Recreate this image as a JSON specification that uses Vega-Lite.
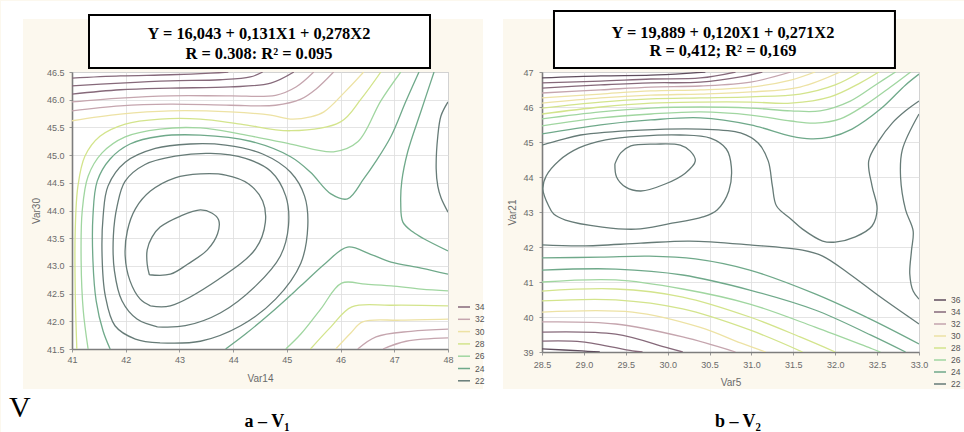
{
"$schema": "https://vega.github.io/schema/vega-lite/v6.json",
"background": "#fcf8ee",
"padding": 0,
"bounds": "flush",
"spacing": 94,
"config": {
 "view": {"fill": "white", "stroke": "#a8a8a8", "strokeWidth": 1},
 "axis": {"labelFont": "Liberation Sans", "labelFontSize": 9, "labelColor": "#6a6a6a", "titleFont": "Liberation Sans", "titleFontSize": 10, "titleFontWeight": "normal", "titleColor": "#6a6a6a", "gridColor": "#dddddd", "gridWidth": 0.8, "domainColor": "#7d7d7d", "domainWidth": 1.6, "tickColor": "#999999", "tickSize": 3, "labelFlush": false, "labelOverlap": false},
 "legend": {"title": null, "symbolType": "stroke", "symbolSize": 144, "symbolStrokeWidth": 1.5, "labelFontSize": 8.5, "labelColor": "#555555", "labelFont": "Liberation Sans", "labelOffset": 4}
},
"resolve": {"scale": {"stroke": "independent"}},
"datasets": {
"L": [
{"id":"A","lv":22,"i":0,"x":42.44,"y":42.84},{"id":"A","lv":22,"i":1,"x":42.83,"y":42.85},{"id":"A","lv":22,"i":2,"x":43.15,"y":43.03},{"id":"A","lv":22,"i":3,"x":43.52,"y":43.29},{"id":"A","lv":22,"i":4,"x":43.71,"y":43.58},{"id":"A","lv":22,"i":5,"x":43.73,"y":43.83},{"id":"A","lv":22,"i":6,"x":43.61,"y":43.95},{"id":"A","lv":22,"i":7,"x":43.39,"y":44.01},{"id":"A","lv":22,"i":8,"x":43.02,"y":43.90},{"id":"A","lv":22,"i":9,"x":42.64,"y":43.70},{"id":"A","lv":22,"i":10,"x":42.49,"y":43.52},{"id":"A","lv":22,"i":11,"x":42.40,"y":43.29},{"id":"A","lv":22,"i":12,"x":42.40,"y":43.03},{"id":"A","lv":22,"i":13,"x":42.44,"y":42.84},
{"id":"R2","lv":22,"i":0,"x":42.46,"y":42.28},{"id":"R2","lv":22,"i":1,"x":42.83,"y":42.28},{"id":"R2","lv":22,"i":2,"x":43.73,"y":42.76},{"id":"R2","lv":22,"i":3,"x":44.42,"y":43.31},{"id":"R2","lv":22,"i":4,"x":44.60,"y":43.79},{"id":"R2","lv":22,"i":5,"x":44.55,"y":44.17},{"id":"R2","lv":22,"i":6,"x":44.29,"y":44.48},{"id":"R2","lv":22,"i":7,"x":43.86,"y":44.64},{"id":"R2","lv":22,"i":8,"x":43.39,"y":44.66},{"id":"R2","lv":22,"i":9,"x":42.92,"y":44.59},{"id":"R2","lv":22,"i":10,"x":42.46,"y":44.35},{"id":"R2","lv":22,"i":11,"x":42.18,"y":44.03},{"id":"R2","lv":22,"i":12,"x":42.03,"y":43.63},{"id":"R2","lv":22,"i":13,"x":41.99,"y":43.18},{"id":"R2","lv":22,"i":14,"x":42.08,"y":42.73},{"id":"R2","lv":22,"i":15,"x":42.27,"y":42.40},{"id":"R2","lv":22,"i":16,"x":42.46,"y":42.28},
{"id":"R3","lv":22,"i":0,"x":42.59,"y":41.90},{"id":"R3","lv":22,"i":1,"x":43.11,"y":41.92},{"id":"R3","lv":22,"i":2,"x":43.76,"y":42.15},{"id":"R3","lv":22,"i":3,"x":44.42,"y":42.64},{"id":"R3","lv":22,"i":4,"x":44.88,"y":43.18},{"id":"R3","lv":22,"i":5,"x":45.03,"y":43.72},{"id":"R3","lv":22,"i":6,"x":44.98,"y":44.26},{"id":"R3","lv":22,"i":7,"x":44.70,"y":44.71},{"id":"R3","lv":22,"i":8,"x":44.23,"y":44.94},{"id":"R3","lv":22,"i":9,"x":43.58,"y":45.03},{"id":"R3","lv":22,"i":10,"x":42.92,"y":44.98},{"id":"R3","lv":22,"i":11,"x":42.36,"y":44.83},{"id":"R3","lv":22,"i":12,"x":41.99,"y":44.53},{"id":"R3","lv":22,"i":13,"x":41.84,"y":44.08},{"id":"R3","lv":22,"i":14,"x":41.77,"y":43.54},{"id":"R3","lv":22,"i":15,"x":41.79,"y":42.91},{"id":"R3","lv":22,"i":16,"x":41.93,"y":42.37},{"id":"R3","lv":22,"i":17,"x":42.21,"y":42.04},{"id":"R3","lv":22,"i":18,"x":42.59,"y":41.90},
{"id":"R4","lv":22,"i":0,"x":42.64,"y":41.61},{"id":"R4","lv":22,"i":1,"x":43.39,"y":41.64},{"id":"R4","lv":22,"i":2,"x":44.14,"y":41.92},{"id":"R4","lv":22,"i":3,"x":44.79,"y":42.40},{"id":"R4","lv":22,"i":4,"x":45.26,"y":43.05},{"id":"R4","lv":22,"i":5,"x":45.39,"y":43.72},{"id":"R4","lv":22,"i":6,"x":45.33,"y":44.26},{"id":"R4","lv":22,"i":7,"x":45.07,"y":44.69},{"id":"R4","lv":22,"i":8,"x":44.55,"y":45.02},{"id":"R4","lv":22,"i":9,"x":43.86,"y":45.18},{"id":"R4","lv":22,"i":10,"x":43.20,"y":45.20},{"id":"R4","lv":22,"i":11,"x":42.55,"y":45.12},{"id":"R4","lv":22,"i":12,"x":41.99,"y":44.87},{"id":"R4","lv":22,"i":13,"x":41.67,"y":44.44},{"id":"R4","lv":22,"i":14,"x":41.58,"y":43.90},{"id":"R4","lv":22,"i":15,"x":41.56,"y":43.18},{"id":"R4","lv":22,"i":16,"x":41.62,"y":42.46},{"id":"R4","lv":22,"i":17,"x":41.80,"y":41.92},{"id":"R4","lv":22,"i":18,"x":42.18,"y":41.68},{"id":"R4","lv":22,"i":19,"x":42.64,"y":41.61},
{"id":"R5","lv":24,"i":0,"x":47.46,"y":46.50},{"id":"R5","lv":24,"i":1,"x":47.22,"y":45.98},{"id":"R5","lv":24,"i":2,"x":46.94,"y":45.34},{"id":"R5","lv":24,"i":3,"x":46.66,"y":44.89},{"id":"R5","lv":24,"i":4,"x":46.43,"y":44.57},{"id":"R5","lv":24,"i":5,"x":46.13,"y":44.21},{"id":"R5","lv":24,"i":6,"x":45.82,"y":44.30},{"id":"R5","lv":24,"i":7,"x":45.44,"y":44.69},{"id":"R5","lv":24,"i":8,"x":45.07,"y":44.97},{"id":"R5","lv":24,"i":9,"x":44.32,"y":45.25},{"id":"R5","lv":24,"i":10,"x":43.39,"y":45.36},{"id":"R5","lv":24,"i":11,"x":42.64,"y":45.34},{"id":"R5","lv":24,"i":12,"x":42.08,"y":45.20},{"id":"R5","lv":24,"i":13,"x":41.71,"y":44.93},{"id":"R5","lv":24,"i":14,"x":41.47,"y":44.53},{"id":"R5","lv":24,"i":15,"x":41.39,"y":43.90},{"id":"R5","lv":24,"i":16,"x":41.39,"y":43.09},{"id":"R5","lv":24,"i":17,"x":41.45,"y":42.37},{"id":"R5","lv":24,"i":18,"x":41.58,"y":41.82},{"id":"R5","lv":24,"i":19,"x":41.71,"y":41.50},
{"id":"R6","lv":26,"i":0,"x":47.12,"y":46.50},{"id":"R6","lv":26,"i":1,"x":46.75,"y":45.98},{"id":"R6","lv":26,"i":2,"x":46.32,"y":45.24},{"id":"R6","lv":26,"i":3,"x":45.87,"y":45.06},{"id":"R6","lv":26,"i":4,"x":45.07,"y":45.20},{"id":"R6","lv":26,"i":5,"x":44.14,"y":45.38},{"id":"R6","lv":26,"i":6,"x":43.39,"y":45.49},{"id":"R6","lv":26,"i":7,"x":42.64,"y":45.47},{"id":"R6","lv":26,"i":8,"x":41.99,"y":45.33},{"id":"R6","lv":26,"i":9,"x":41.56,"y":45.04},{"id":"R6","lv":26,"i":10,"x":41.30,"y":44.62},{"id":"R6","lv":26,"i":11,"x":41.19,"y":43.99},{"id":"R6","lv":26,"i":12,"x":41.17,"y":43.09},{"id":"R6","lv":26,"i":13,"x":41.21,"y":42.19},{"id":"R6","lv":26,"i":14,"x":41.30,"y":41.50},
{"id":"R7","lv":28,"i":0,"x":46.75,"y":46.50},{"id":"R7","lv":28,"i":1,"x":46.38,"y":46.01},{"id":"R7","lv":28,"i":2,"x":46.00,"y":45.60},{"id":"R7","lv":28,"i":3,"x":45.07,"y":45.44},{"id":"R7","lv":28,"i":4,"x":44.14,"y":45.56},{"id":"R7","lv":28,"i":5,"x":43.39,"y":45.65},{"id":"R7","lv":28,"i":6,"x":42.64,"y":45.65},{"id":"R7","lv":28,"i":7,"x":41.99,"y":45.56},{"id":"R7","lv":28,"i":8,"x":41.52,"y":45.34},{"id":"R7","lv":28,"i":9,"x":41.24,"y":44.98},{"id":"R7","lv":28,"i":10,"x":41.11,"y":44.44},{"id":"R7","lv":28,"i":11,"x":41.06,"y":43.63},{"id":"R7","lv":28,"i":12,"x":41.06,"y":42.55},{"id":"R7","lv":28,"i":13,"x":41.09,"y":41.50},
{"id":"T6","lv":30,"i":0,"x":41.00,"y":45.62},{"id":"T6","lv":30,"i":1,"x":41.90,"y":45.74},{"id":"T6","lv":30,"i":2,"x":42.83,"y":45.80},{"id":"T6","lv":30,"i":3,"x":43.95,"y":45.78},{"id":"T6","lv":30,"i":4,"x":44.70,"y":45.72},{"id":"T6","lv":30,"i":5,"x":45.07,"y":45.65},{"id":"T6","lv":30,"i":6,"x":45.44,"y":45.69},{"id":"T6","lv":30,"i":7,"x":45.69,"y":45.78},{"id":"T6","lv":30,"i":8,"x":46.10,"y":46.16},{"id":"T6","lv":30,"i":9,"x":46.43,"y":46.50},
{"id":"T5","lv":32,"i":0,"x":41.00,"y":45.80},{"id":"T5","lv":32,"i":1,"x":41.90,"y":45.89},{"id":"T5","lv":32,"i":2,"x":42.83,"y":45.92},{"id":"T5","lv":32,"i":3,"x":43.95,"y":45.90},{"id":"T5","lv":32,"i":4,"x":44.79,"y":45.90},{"id":"T5","lv":32,"i":5,"x":45.26,"y":46.01},{"id":"T5","lv":32,"i":6,"x":45.54,"y":46.19},{"id":"T5","lv":32,"i":7,"x":45.87,"y":46.50},
{"id":"T4","lv":32,"i":0,"x":41.00,"y":45.96},{"id":"T4","lv":32,"i":1,"x":41.90,"y":46.03},{"id":"T4","lv":32,"i":2,"x":42.83,"y":46.07},{"id":"T4","lv":32,"i":3,"x":43.95,"y":46.07},{"id":"T4","lv":32,"i":4,"x":44.79,"y":46.08},{"id":"T4","lv":32,"i":5,"x":45.17,"y":46.23},{"id":"T4","lv":32,"i":6,"x":45.50,"y":46.50},
{"id":"T3","lv":34,"i":0,"x":41.00,"y":46.10},{"id":"T3","lv":34,"i":1,"x":41.90,"y":46.18},{"id":"T3","lv":34,"i":2,"x":42.83,"y":46.21},{"id":"T3","lv":34,"i":3,"x":43.95,"y":46.23},{"id":"T3","lv":34,"i":4,"x":44.70,"y":46.30},{"id":"T3","lv":34,"i":5,"x":45.13,"y":46.50},
{"id":"T2","lv":34,"i":0,"x":41.00,"y":46.25},{"id":"T2","lv":34,"i":1,"x":41.90,"y":46.30},{"id":"T2","lv":34,"i":2,"x":42.83,"y":46.34},{"id":"T2","lv":34,"i":3,"x":43.76,"y":46.36},{"id":"T2","lv":34,"i":4,"x":44.32,"y":46.41},{"id":"T2","lv":34,"i":5,"x":44.55,"y":46.50},
{"id":"T1","lv":34,"i":0,"x":41.00,"y":46.39},{"id":"T1","lv":34,"i":1,"x":41.90,"y":46.43},{"id":"T1","lv":34,"i":2,"x":42.83,"y":46.45},{"id":"T1","lv":34,"i":3,"x":43.58,"y":46.48},{"id":"T1","lv":34,"i":4,"x":43.91,"y":46.50},
{"id":"RM1","lv":24,"i":0,"x":47.74,"y":46.50},{"id":"RM1","lv":24,"i":1,"x":47.50,"y":45.80},{"id":"RM1","lv":24,"i":2,"x":47.25,"y":45.06},{"id":"RM1","lv":24,"i":3,"x":47.14,"y":44.53},{"id":"RM1","lv":24,"i":4,"x":47.12,"y":44.15},{"id":"RM1","lv":24,"i":5,"x":47.16,"y":43.79},{"id":"RM1","lv":24,"i":6,"x":47.35,"y":43.61},{"id":"RM1","lv":24,"i":7,"x":47.55,"y":43.49},{"id":"RM1","lv":24,"i":8,"x":48.00,"y":43.27},
{"id":"RM2","lv":22,"i":0,"x":48.00,"y":45.96},{"id":"RM2","lv":22,"i":1,"x":47.87,"y":45.71},{"id":"RM2","lv":22,"i":2,"x":47.81,"y":45.34},{"id":"RM2","lv":22,"i":3,"x":47.78,"y":44.75},{"id":"RM2","lv":22,"i":4,"x":47.81,"y":44.44},{"id":"RM2","lv":22,"i":5,"x":47.87,"y":44.23},{"id":"RM2","lv":22,"i":6,"x":48.00,"y":43.97},
{"id":"V1","lv":24,"i":0,"x":43.86,"y":41.50},{"id":"V1","lv":24,"i":1,"x":44.23,"y":41.77},{"id":"V1","lv":24,"i":2,"x":44.70,"y":42.15},{"id":"V1","lv":24,"i":3,"x":45.26,"y":42.64},{"id":"V1","lv":24,"i":4,"x":45.72,"y":43.05},{"id":"V1","lv":24,"i":5,"x":46.13,"y":43.34},{"id":"V1","lv":24,"i":6,"x":46.56,"y":43.21},{"id":"V1","lv":24,"i":7,"x":46.94,"y":43.07},{"id":"V1","lv":24,"i":8,"x":47.50,"y":42.96},{"id":"V1","lv":24,"i":9,"x":48.00,"y":42.85},
{"id":"V2","lv":26,"i":0,"x":44.98,"y":41.50},{"id":"V2","lv":26,"i":1,"x":45.26,"y":41.77},{"id":"V2","lv":26,"i":2,"x":45.63,"y":42.22},{"id":"V2","lv":26,"i":3,"x":46.02,"y":42.69},{"id":"V2","lv":26,"i":4,"x":46.47,"y":42.67},{"id":"V2","lv":26,"i":5,"x":46.94,"y":42.64},{"id":"V2","lv":26,"i":6,"x":47.50,"y":42.58},{"id":"V2","lv":26,"i":7,"x":48.00,"y":42.55},
{"id":"V3","lv":28,"i":0,"x":45.44,"y":41.50},{"id":"V3","lv":28,"i":1,"x":45.82,"y":41.90},{"id":"V3","lv":28,"i":2,"x":46.21,"y":42.26},{"id":"V3","lv":28,"i":3,"x":46.94,"y":42.29},{"id":"V3","lv":28,"i":4,"x":48.00,"y":42.28},
{"id":"V4","lv":30,"i":0,"x":45.91,"y":41.50},{"id":"V4","lv":30,"i":1,"x":46.19,"y":41.79},{"id":"V4","lv":30,"i":2,"x":46.41,"y":41.99},{"id":"V4","lv":30,"i":3,"x":47.12,"y":42.02},{"id":"V4","lv":30,"i":4,"x":48.00,"y":42.04},
{"id":"V5","lv":32,"i":0,"x":46.32,"y":41.50},{"id":"V5","lv":32,"i":1,"x":46.66,"y":41.72},{"id":"V5","lv":32,"i":2,"x":47.31,"y":41.82},{"id":"V5","lv":32,"i":3,"x":48.00,"y":41.86},
{"id":"V6","lv":32,"i":0,"x":46.79,"y":41.50},{"id":"V6","lv":32,"i":1,"x":47.22,"y":41.64},{"id":"V6","lv":32,"i":2,"x":48.00,"y":41.70}
],
"R": [
{"id":"E","lv":22,"i":0,"x":29.37,"y":44.37},{"id":"E","lv":22,"i":1,"x":29.44,"y":44.69},{"id":"E","lv":22,"i":2,"x":29.56,"y":44.89},{"id":"E","lv":22,"i":3,"x":29.86,"y":44.94},{"id":"E","lv":22,"i":4,"x":30.15,"y":44.91},{"id":"E","lv":22,"i":5,"x":30.27,"y":44.74},{"id":"E","lv":22,"i":6,"x":30.33,"y":44.46},{"id":"E","lv":22,"i":7,"x":30.21,"y":44.11},{"id":"E","lv":22,"i":8,"x":29.97,"y":43.80},{"id":"E","lv":22,"i":9,"x":29.68,"y":43.60},{"id":"E","lv":22,"i":10,"x":29.50,"y":43.71},{"id":"E","lv":22,"i":11,"x":29.39,"y":44.00},{"id":"E","lv":22,"i":12,"x":29.37,"y":44.37},
{"id":"Q2","lv":22,"i":0,"x":28.58,"y":43.17},{"id":"Q2","lv":22,"i":1,"x":28.51,"y":43.66},{"id":"Q2","lv":22,"i":2,"x":28.55,"y":44.03},{"id":"Q2","lv":22,"i":3,"x":28.70,"y":44.46},{"id":"Q2","lv":22,"i":4,"x":28.94,"y":44.83},{"id":"Q2","lv":22,"i":5,"x":29.26,"y":45.06},{"id":"Q2","lv":22,"i":6,"x":29.68,"y":45.17},{"id":"Q2","lv":22,"i":7,"x":30.15,"y":45.20},{"id":"Q2","lv":22,"i":8,"x":30.51,"y":45.11},{"id":"Q2","lv":22,"i":9,"x":30.70,"y":44.80},{"id":"Q2","lv":22,"i":10,"x":30.76,"y":44.29},{"id":"Q2","lv":22,"i":11,"x":30.73,"y":43.60},{"id":"Q2","lv":22,"i":12,"x":30.59,"y":43.06},{"id":"Q2","lv":22,"i":13,"x":30.42,"y":42.86},{"id":"Q2","lv":22,"i":14,"x":30.01,"y":42.66},{"id":"Q2","lv":22,"i":15,"x":29.62,"y":42.51},{"id":"Q2","lv":22,"i":16,"x":29.22,"y":42.57},{"id":"Q2","lv":22,"i":17,"x":28.78,"y":42.77},{"id":"Q2","lv":22,"i":18,"x":28.64,"y":42.94},{"id":"Q2","lv":22,"i":19,"x":28.58,"y":43.17},
{"id":"CB","lv":22,"i":0,"x":28.50,"y":44.91},{"id":"CB","lv":22,"i":1,"x":28.72,"y":45.06},{"id":"CB","lv":22,"i":2,"x":28.96,"y":45.20},{"id":"CB","lv":22,"i":3,"x":29.68,"y":45.34},{"id":"CB","lv":22,"i":4,"x":30.39,"y":45.37},{"id":"CB","lv":22,"i":5,"x":30.87,"y":45.26},{"id":"CB","lv":22,"i":6,"x":31.08,"y":44.97},{"id":"CB","lv":22,"i":7,"x":31.20,"y":44.46},{"id":"CB","lv":22,"i":8,"x":31.25,"y":43.74},{"id":"CB","lv":22,"i":9,"x":31.30,"y":43.17},{"id":"CB","lv":22,"i":10,"x":31.47,"y":42.80},{"id":"CB","lv":22,"i":11,"x":31.61,"y":42.51},{"id":"CB","lv":22,"i":12,"x":31.85,"y":42.17},{"id":"CB","lv":22,"i":13,"x":32.00,"y":42.14},{"id":"CB","lv":22,"i":14,"x":32.24,"y":42.29},{"id":"CB","lv":22,"i":15,"x":32.44,"y":42.60},{"id":"CB","lv":22,"i":16,"x":32.50,"y":43.09},{"id":"CB","lv":22,"i":17,"x":32.44,"y":43.74},{"id":"CB","lv":22,"i":18,"x":32.40,"y":44.46},{"id":"CB","lv":22,"i":19,"x":32.52,"y":45.03},{"id":"CB","lv":22,"i":20,"x":32.68,"y":45.54},{"id":"CB","lv":22,"i":21,"x":32.84,"y":45.89},{"id":"CB","lv":22,"i":22,"x":33.00,"y":46.17},
{"id":"CE","lv":22,"i":0,"x":33.00,"y":45.80},{"id":"CE","lv":22,"i":1,"x":32.80,"y":44.77},{"id":"CE","lv":22,"i":2,"x":32.78,"y":44.00},{"id":"CE","lv":22,"i":3,"x":32.84,"y":43.06},{"id":"CE","lv":22,"i":4,"x":32.93,"y":42.46},{"id":"CE","lv":22,"i":5,"x":32.91,"y":41.89},{"id":"CE","lv":22,"i":6,"x":32.89,"y":41.23},{"id":"CE","lv":22,"i":7,"x":32.93,"y":40.74},{"id":"CE","lv":22,"i":8,"x":33.00,"y":40.51},
{"id":"U1","lv":36,"i":0,"x":28.50,"y":46.83},{"id":"U1","lv":36,"i":1,"x":29.20,"y":46.89},{"id":"U1","lv":36,"i":2,"x":29.80,"y":46.91},{"id":"U1","lv":36,"i":3,"x":30.27,"y":46.97},{"id":"U1","lv":36,"i":4,"x":30.45,"y":47.00},
{"id":"U2","lv":34,"i":0,"x":28.50,"y":46.69},{"id":"U2","lv":34,"i":1,"x":29.20,"y":46.74},{"id":"U2","lv":34,"i":2,"x":29.80,"y":46.80},{"id":"U2","lv":34,"i":3,"x":30.39,"y":46.83},{"id":"U2","lv":34,"i":4,"x":30.81,"y":47.00},
{"id":"U3","lv":34,"i":0,"x":28.50,"y":46.54},{"id":"U3","lv":34,"i":1,"x":29.20,"y":46.63},{"id":"U3","lv":34,"i":2,"x":29.80,"y":46.69},{"id":"U3","lv":34,"i":3,"x":30.39,"y":46.71},{"id":"U3","lv":34,"i":4,"x":30.87,"y":46.86},{"id":"U3","lv":34,"i":5,"x":31.13,"y":47.00},
{"id":"U4","lv":32,"i":0,"x":28.50,"y":46.40},{"id":"U4","lv":32,"i":1,"x":29.20,"y":46.49},{"id":"U4","lv":32,"i":2,"x":29.80,"y":46.57},{"id":"U4","lv":32,"i":3,"x":30.39,"y":46.60},{"id":"U4","lv":32,"i":4,"x":30.99,"y":46.71},{"id":"U4","lv":32,"i":5,"x":31.47,"y":47.00},
{"id":"U5","lv":30,"i":0,"x":28.50,"y":46.26},{"id":"U5","lv":30,"i":1,"x":29.20,"y":46.37},{"id":"U5","lv":30,"i":2,"x":29.80,"y":46.46},{"id":"U5","lv":30,"i":3,"x":30.39,"y":46.49},{"id":"U5","lv":30,"i":4,"x":30.99,"y":46.57},{"id":"U5","lv":30,"i":5,"x":31.47,"y":46.77},{"id":"U5","lv":30,"i":6,"x":31.76,"y":47.00},
{"id":"U6","lv":30,"i":0,"x":28.50,"y":46.11},{"id":"U6","lv":30,"i":1,"x":29.20,"y":46.26},{"id":"U6","lv":30,"i":2,"x":29.80,"y":46.34},{"id":"U6","lv":30,"i":3,"x":30.39,"y":46.37},{"id":"U6","lv":30,"i":4,"x":30.99,"y":46.43},{"id":"U6","lv":30,"i":5,"x":31.58,"y":46.57},{"id":"U6","lv":30,"i":6,"x":32.06,"y":47.00},
{"id":"U7","lv":28,"i":0,"x":28.50,"y":45.97},{"id":"U7","lv":28,"i":1,"x":29.20,"y":46.14},{"id":"U7","lv":28,"i":2,"x":29.80,"y":46.23},{"id":"U7","lv":28,"i":3,"x":30.39,"y":46.26},{"id":"U7","lv":28,"i":4,"x":30.99,"y":46.29},{"id":"U7","lv":28,"i":5,"x":31.58,"y":46.37},{"id":"U7","lv":28,"i":6,"x":32.00,"y":46.63},{"id":"U7","lv":28,"i":7,"x":32.30,"y":47.00},
{"id":"U8","lv":28,"i":0,"x":28.50,"y":45.80},{"id":"U8","lv":28,"i":1,"x":29.20,"y":46.00},{"id":"U8","lv":28,"i":2,"x":29.80,"y":46.11},{"id":"U8","lv":28,"i":3,"x":30.39,"y":46.14},{"id":"U8","lv":28,"i":4,"x":30.99,"y":46.14},{"id":"U8","lv":28,"i":5,"x":31.47,"y":46.11},{"id":"U8","lv":28,"i":6,"x":31.94,"y":46.29},{"id":"U8","lv":28,"i":7,"x":32.30,"y":46.69},{"id":"U8","lv":28,"i":8,"x":32.52,"y":47.00},
{"id":"U9","lv":26,"i":0,"x":28.50,"y":45.66},{"id":"U9","lv":26,"i":1,"x":29.20,"y":45.86},{"id":"U9","lv":26,"i":2,"x":29.80,"y":45.97},{"id":"U9","lv":26,"i":3,"x":30.39,"y":46.00},{"id":"U9","lv":26,"i":4,"x":30.99,"y":45.97},{"id":"U9","lv":26,"i":5,"x":31.47,"y":45.89},{"id":"U9","lv":26,"i":6,"x":31.82,"y":45.89},{"id":"U9","lv":26,"i":7,"x":32.18,"y":46.17},{"id":"U9","lv":26,"i":8,"x":32.48,"y":46.63},{"id":"U9","lv":26,"i":9,"x":32.72,"y":47.00},
{"id":"U10","lv":26,"i":0,"x":28.50,"y":45.46},{"id":"U10","lv":26,"i":1,"x":29.20,"y":45.69},{"id":"U10","lv":26,"i":2,"x":29.80,"y":45.80},{"id":"U10","lv":26,"i":3,"x":30.39,"y":45.86},{"id":"U10","lv":26,"i":4,"x":30.99,"y":45.77},{"id":"U10","lv":26,"i":5,"x":31.47,"y":45.60},{"id":"U10","lv":26,"i":6,"x":31.76,"y":45.54},{"id":"U10","lv":26,"i":7,"x":32.06,"y":45.66},{"id":"U10","lv":26,"i":8,"x":32.36,"y":46.06},{"id":"U10","lv":26,"i":9,"x":32.66,"y":46.57},{"id":"U10","lv":26,"i":10,"x":32.90,"y":47.00},
{"id":"U11","lv":24,"i":0,"x":28.50,"y":45.23},{"id":"U11","lv":24,"i":1,"x":29.20,"y":45.49},{"id":"U11","lv":24,"i":2,"x":29.80,"y":45.63},{"id":"U11","lv":24,"i":3,"x":30.39,"y":45.69},{"id":"U11","lv":24,"i":4,"x":30.99,"y":45.49},{"id":"U11","lv":24,"i":5,"x":31.47,"y":45.17},{"id":"U11","lv":24,"i":6,"x":31.71,"y":45.09},{"id":"U11","lv":24,"i":7,"x":31.94,"y":45.14},{"id":"U11","lv":24,"i":8,"x":32.20,"y":45.37},{"id":"U11","lv":24,"i":9,"x":32.54,"y":45.94},{"id":"U11","lv":24,"i":10,"x":32.84,"y":46.63},{"id":"U11","lv":24,"i":11,"x":33.00,"y":46.94},
{"id":"La","lv":22,"i":0,"x":28.50,"y":42.06},{"id":"La","lv":22,"i":1,"x":28.98,"y":42.03},{"id":"La","lv":22,"i":2,"x":29.68,"y":42.11},{"id":"La","lv":22,"i":3,"x":30.26,"y":42.17},{"id":"La","lv":22,"i":4,"x":30.98,"y":42.06},{"id":"La","lv":22,"i":5,"x":31.61,"y":41.91},{"id":"La","lv":22,"i":6,"x":31.85,"y":41.74},{"id":"La","lv":22,"i":7,"x":32.17,"y":41.23},{"id":"La","lv":22,"i":8,"x":32.54,"y":40.57},{"id":"La","lv":22,"i":9,"x":33.00,"y":39.80},
{"id":"Lb","lv":24,"i":0,"x":28.50,"y":41.69},{"id":"Lb","lv":24,"i":1,"x":29.20,"y":41.71},{"id":"Lb","lv":24,"i":2,"x":29.78,"y":41.74},{"id":"Lb","lv":24,"i":3,"x":30.33,"y":41.66},{"id":"Lb","lv":24,"i":4,"x":30.98,"y":41.34},{"id":"Lb","lv":24,"i":5,"x":31.76,"y":40.66},{"id":"Lb","lv":24,"i":6,"x":32.42,"y":39.94},{"id":"Lb","lv":24,"i":7,"x":33.00,"y":39.23},
{"id":"Lc","lv":24,"i":0,"x":28.50,"y":41.34},{"id":"Lc","lv":24,"i":1,"x":29.38,"y":41.37},{"id":"Lc","lv":24,"i":2,"x":30.18,"y":41.20},{"id":"Lc","lv":24,"i":3,"x":30.98,"y":40.77},{"id":"Lc","lv":24,"i":4,"x":31.76,"y":40.20},{"id":"Lc","lv":24,"i":5,"x":32.42,"y":39.49},{"id":"Lc","lv":24,"i":6,"x":32.84,"y":39.00},
{"id":"Ld","lv":26,"i":0,"x":28.50,"y":41.00},{"id":"Ld","lv":26,"i":1,"x":29.38,"y":41.06},{"id":"Ld","lv":26,"i":2,"x":30.18,"y":40.80},{"id":"Ld","lv":26,"i":3,"x":30.98,"y":40.37},{"id":"Ld","lv":26,"i":4,"x":31.76,"y":39.71},{"id":"Ld","lv":26,"i":5,"x":32.42,"y":39.11},{"id":"Ld","lv":26,"i":6,"x":32.54,"y":39.00},
{"id":"Le","lv":28,"i":0,"x":28.50,"y":40.74},{"id":"Le","lv":28,"i":1,"x":29.38,"y":40.80},{"id":"Le","lv":28,"i":2,"x":30.18,"y":40.57},{"id":"Le","lv":28,"i":3,"x":30.98,"y":40.00},{"id":"Le","lv":28,"i":4,"x":31.58,"y":39.43},{"id":"Le","lv":28,"i":5,"x":32.00,"y":39.00},
{"id":"Lf","lv":28,"i":0,"x":28.50,"y":40.46},{"id":"Lf","lv":28,"i":1,"x":29.38,"y":40.49},{"id":"Lf","lv":28,"i":2,"x":30.18,"y":40.23},{"id":"Lf","lv":28,"i":3,"x":30.98,"y":39.63},{"id":"Lf","lv":28,"i":4,"x":31.61,"y":39.00},
{"id":"Lg","lv":30,"i":0,"x":28.50,"y":40.14},{"id":"Lg","lv":30,"i":1,"x":29.58,"y":40.14},{"id":"Lg","lv":30,"i":2,"x":30.38,"y":39.71},{"id":"Lg","lv":30,"i":3,"x":30.87,"y":39.26},{"id":"Lg","lv":30,"i":4,"x":31.17,"y":39.00},
{"id":"Lh","lv":32,"i":0,"x":28.50,"y":39.86},{"id":"Lh","lv":32,"i":1,"x":29.38,"y":39.80},{"id":"Lh","lv":32,"i":2,"x":30.18,"y":39.43},{"id":"Lh","lv":32,"i":3,"x":30.81,"y":39.00},
{"id":"Li","lv":34,"i":0,"x":28.50,"y":39.57},{"id":"Li","lv":34,"i":1,"x":29.38,"y":39.51},{"id":"Li","lv":34,"i":2,"x":29.97,"y":39.14},{"id":"Li","lv":34,"i":3,"x":30.18,"y":39.00},
{"id":"Lj","lv":34,"i":0,"x":28.50,"y":39.31},{"id":"Lj","lv":34,"i":1,"x":28.98,"y":39.29},{"id":"Lj","lv":34,"i":2,"x":29.58,"y":39.03},{"id":"Lj","lv":34,"i":3,"x":29.70,"y":39.00},
{"id":"Lk","lv":36,"i":0,"x":28.50,"y":39.09},{"id":"Lk","lv":36,"i":1,"x":28.98,"y":39.03},{"id":"Lk","lv":36,"i":2,"x":29.19,"y":39.00}
]
},
"hconcat": [
{
 "width": 376, "height": 277,
 "resolve": {"axis": {"x": "independent", "y": "independent"}},
 "layer": [
  {"data": {"name": "L"}, "mark": {"type": "line", "strokeWidth": 1.3, "interpolate": "catmull-rom", "clip": true},
   "encoding": {
    "x": {"field": "x", "type": "quantitative", "scale": {"domain": [41, 48], "nice": false, "zero": false}, "axis": {"title": "Var14", "values": [41, 42, 43, 44, 45, 46, 47, 48], "format": "d", "labelPadding": 3, "titlePadding": 9}},
    "y": {"field": "y", "type": "quantitative", "scale": {"domain": [41.5, 46.5], "nice": false, "zero": false}, "axis": {"title": "Var30", "values": [41.5, 42, 42.5, 43, 43.5, 44, 44.5, 45, 45.5, 46, 46.5], "format": ".1f", "labelPadding": 5, "titlePadding": 5}},
    "detail": {"field": "id"},
    "order": {"field": "i", "type": "quantitative"},
    "stroke": {"field": "lv", "type": "ordinal", "scale": {"domain": [34, 32, 30, 28, 26, 24, 22], "range": ["#86697a", "#c5a5ae", "#ede2a4", "#d3e48c", "#a0d6a0", "#6fa98a", "#667b77"]}, "legend": {"orient": "none", "legendX": 385, "legendY": 228, "rowPadding": 0.3}}
   }},
  {"data": {"values": [{}]}, "mark": {"type": "rect", "fill": "white"}, "encoding": {"x": {"datum": 39.678, "type": "quantitative", "axis": null}, "x2": {"datum": 57.625}, "y": {"datum": 47.7816, "type": "quantitative", "axis": null}, "y2": {"datum": 47.4567}}},
  {"data": {"values": [{}]}, "mark": {"type": "rect", "fill": "white"}, "encoding": {"x": {"datum": 39.678, "type": "quantitative", "axis": null}, "x2": {"datum": 40.0878}, "y": {"datum": 47.4567, "type": "quantitative", "axis": null}, "y2": {"datum": 40.778}}},
  {"data": {"values": [{}]}, "mark": {"type": "rect", "fill": "white"}, "encoding": {"x": {"datum": 48.6516, "type": "quantitative", "axis": null}, "x2": {"datum": 49.024}, "y": {"datum": 47.4567, "type": "quantitative", "axis": null}, "y2": {"datum": 40.778}}},
  {"data": {"values": [{}]}, "mark": {"type": "rect", "fill": "white"}, "encoding": {"x": {"datum": 39.678, "type": "quantitative", "axis": null}, "x2": {"datum": 57.625}, "y": {"datum": 40.778, "type": "quantitative", "axis": null}, "y2": {"datum": 39.9838}}},
  {"data": {"values": [{}]}, "mark": {"type": "rect", "fill": "white", "stroke": "black", "strokeWidth": 2}, "encoding": {"x": {"datum": 41.3165, "type": "quantitative", "axis": null}, "x2": {"datum": 47.665}, "y": {"datum": 47.529, "type": "quantitative", "axis": null}, "y2": {"datum": 46.572}}},
  {"data": {"values": [{}]}, "mark": {"type": "text", "font": "Liberation Serif", "fontWeight": "bold", "fontSize": 16.4, "color": "black", "align": "center", "baseline": "middle"}, "encoding": {"x": {"datum": 44.481, "type": "quantitative", "axis": null}, "y": {"datum": 47.186, "type": "quantitative", "axis": null}, "text": {"value": "Y = 16,043 + 0,131X1 + 0,278X2"}}},
  {"data": {"values": [{}]}, "mark": {"type": "text", "font": "Liberation Serif", "fontWeight": "bold", "fontSize": 16.4, "color": "black", "align": "center", "baseline": "middle"}, "encoding": {"x": {"datum": 44.481, "type": "quantitative", "axis": null}, "y": {"datum": 46.816, "type": "quantitative", "axis": null}, "text": {"value": "R = 0.308: R² = 0.095"}}},
  {"data": {"values": [{}]}, "mark": {"type": "text", "font": "Liberation Serif", "fontWeight": "bold", "fontSize": 18, "color": "black", "align": "center", "baseline": "middle"}, "encoding": {"x": {"datum": 44.63, "type": "quantitative", "axis": null}, "y": {"datum": 40.182, "type": "quantitative", "axis": null}, "text": {"value": "a – V₁"}}},
  {"data": {"values": [{}]}, "mark": {"type": "text", "font": "Liberation Serif", "fontSize": 30, "color": "black", "align": "left", "baseline": "middle"}, "encoding": {"x": {"datum": 39.827, "type": "quantitative", "axis": null}, "y": {"datum": 40.435, "type": "quantitative", "axis": null}, "text": {"value": "V"}}}
 ]
},
{
 "width": 377, "height": 280,
 "resolve": {"axis": {"x": "independent", "y": "independent"}},
 "layer": [
  {"data": {"name": "R"}, "mark": {"type": "line", "strokeWidth": 1.3, "interpolate": "catmull-rom", "clip": true},
   "encoding": {
    "x": {"field": "x", "type": "quantitative", "scale": {"domain": [28.5, 33], "nice": false, "zero": false}, "axis": {"title": "Var5", "values": [28.5, 29, 29.5, 30, 30.5, 31, 31.5, 32, 32.5, 33], "format": ".1f", "labelPadding": 5, "titlePadding": 8}},
    "y": {"field": "y", "type": "quantitative", "scale": {"domain": [39, 47], "nice": false, "zero": false}, "axis": {"title": "Var21", "values": [39, 40, 41, 42, 43, 44, 45, 46, 47], "format": "d", "labelPadding": 6, "titlePadding": 5}},
    "detail": {"field": "id"},
    "order": {"field": "i", "type": "quantitative"},
    "stroke": {"field": "lv", "type": "ordinal", "scale": {"domain": [36, 34, 32, 30, 28, 26, 24, 22], "range": ["#5f4d5d", "#86697a", "#c5a5ae", "#ede2a4", "#d3e48c", "#a0d6a0", "#6fa98a", "#667b77"]}, "legend": {"orient": "none", "legendX": 391, "legendY": 221, "rowPadding": 0}}
   }},
  {"data": {"values": [{}]}, "mark": {"type": "rect", "fill": "white", "stroke": "black", "strokeWidth": 2}, "encoding": {"x": {"datum": 28.643, "type": "quantitative", "axis": null}, "x2": {"datum": 32.713}, "y": {"datum": 48.743, "type": "quantitative", "axis": null}, "y2": {"datum": 47.114}}},
  {"data": {"values": [{}]}, "mark": {"type": "text", "font": "Liberation Serif", "fontWeight": "bold", "fontSize": 16.4, "color": "black", "align": "center", "baseline": "middle"}, "encoding": {"x": {"datum": 30.66, "type": "quantitative", "axis": null}, "y": {"datum": 48.123, "type": "quantitative", "axis": null}, "text": {"value": "Y = 19,889 + 0,120X1 + 0,271X2"}}},
  {"data": {"values": [{}]}, "mark": {"type": "text", "font": "Liberation Serif", "fontWeight": "bold", "fontSize": 16.4, "color": "black", "align": "center", "baseline": "middle"}, "encoding": {"x": {"datum": 30.66, "type": "quantitative", "axis": null}, "y": {"datum": 47.6, "type": "quantitative", "axis": null}, "text": {"value": "R = 0,412; R² = 0,169"}}},
  {"data": {"values": [{}]}, "mark": {"type": "text", "font": "Liberation Serif", "fontWeight": "bold", "fontSize": 18, "color": "black", "align": "center", "baseline": "middle"}, "encoding": {"x": {"datum": 30.839, "type": "quantitative", "axis": null}, "y": {"datum": 37.0, "type": "quantitative", "axis": null}, "text": {"value": "b – V₂"}}}
 ]
}
]
}
